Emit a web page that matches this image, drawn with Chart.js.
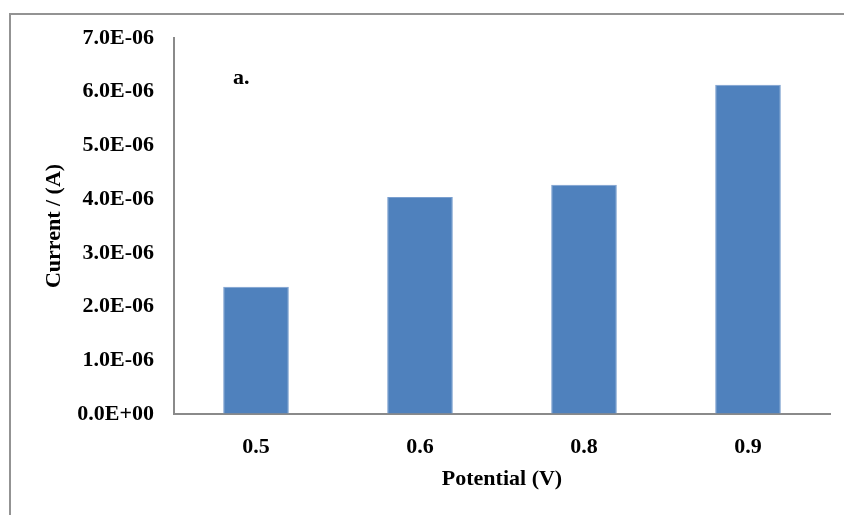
<!DOCTYPE html>
<html>
<head>
<meta charset="utf-8">
<script src="https://cdn.jsdelivr.net/npm/chart.js@4"></script>
<style>
  html, body { margin: 0; padding: 0; background: #fff; }
  #wrap { position: relative; width: 844px; height: 515px; }
  #frame { position: absolute; left: 9px; top: 13px; width: 900px; height: 600px;
           border-left: 2px solid #939393; border-top: 2px solid #939393; }
  canvas { position: absolute; left: 0; top: 0; }
</style>
</head>
<body>
<div id="wrap">
  <div id="frame"></div>
  <canvas id="grafic" width="844" height="515"></canvas>
</div>
<script>
// Date
const potentiale = ['0.5', '0.6', '0.8', '0.9'];
const curenti = [2.37e-6, 4.04e-6, 4.27e-6, 6.13e-6];
const eticheteY = ['0.0E+00', '1.0E-06', '2.0E-06', '3.0E-06', '4.0E-06', '5.0E-06', '6.0E-06', '7.0E-06'];

const font = { family: "'Liberation Serif', 'Times New Roman', serif", size: 22, weight: 'bold' };
Chart.defaults.color = '#000';

// Eticheta "a."
const eticheta = {
    id: 'eticheta',
    afterDraw(chart) {
        const ctx = chart.ctx;
        ctx.save();
        ctx.font = "bold 22px 'Liberation Serif', serif";
        ctx.fillStyle = '#000';
        ctx.textBaseline = 'alphabetic';
        ctx.fillText('a.', chart.chartArea.left + 59, 84);
        ctx.restore();
    }
};

new Chart(document.getElementById('grafic').getContext('2d'), {
    type: 'bar',
    data: {
        labels: potentiale,
        datasets: [{
            data: curenti,
            backgroundColor: '#4f81bd',
            borderColor: '#7a9fcf',
            borderWidth: 1,
            categoryPercentage: 1,
            barPercentage: 0.4
        }]
    },
    options: {
        responsive: false,
        animation: false,
        layout: { padding: { left: 0, right: 14, top: 38, bottom: 0 } },
        plugins: { legend: { display: false }, tooltip: { enabled: false } },
        scales: {
            x: {
                grid: { color: 'transparent', drawTicks: false },
                border: { display: true, color: '#8a8a8a', width: 2 },
                ticks: { font: font, padding: 20, color: '#000' },
                title: { display: true, text: 'Potential (V)', font: font, color: '#000', padding: { top: 0, bottom: 22 } },
                afterFit(scale) { scale.height = 101; }
            },
            y: {
                min: 0,
                max: 7e-6,
                grid: { color: 'transparent', drawTicks: false },
                border: { display: true, color: '#8a8a8a', width: 2 },
                ticks: {
                    stepSize: 1e-6,
                    font: font,
                    padding: 20,
                    color: '#000',
                    callback: (v, i) => eticheteY[i]
                },
                title: { display: true, text: 'Current / (A)', font: font, color: '#000', padding: { top: 41, bottom: 0 } },
                afterFit(scale) { scale.width = 174; }
            }
        }
    },
    plugins: [eticheta]
});
</script>
</body>
</html>
